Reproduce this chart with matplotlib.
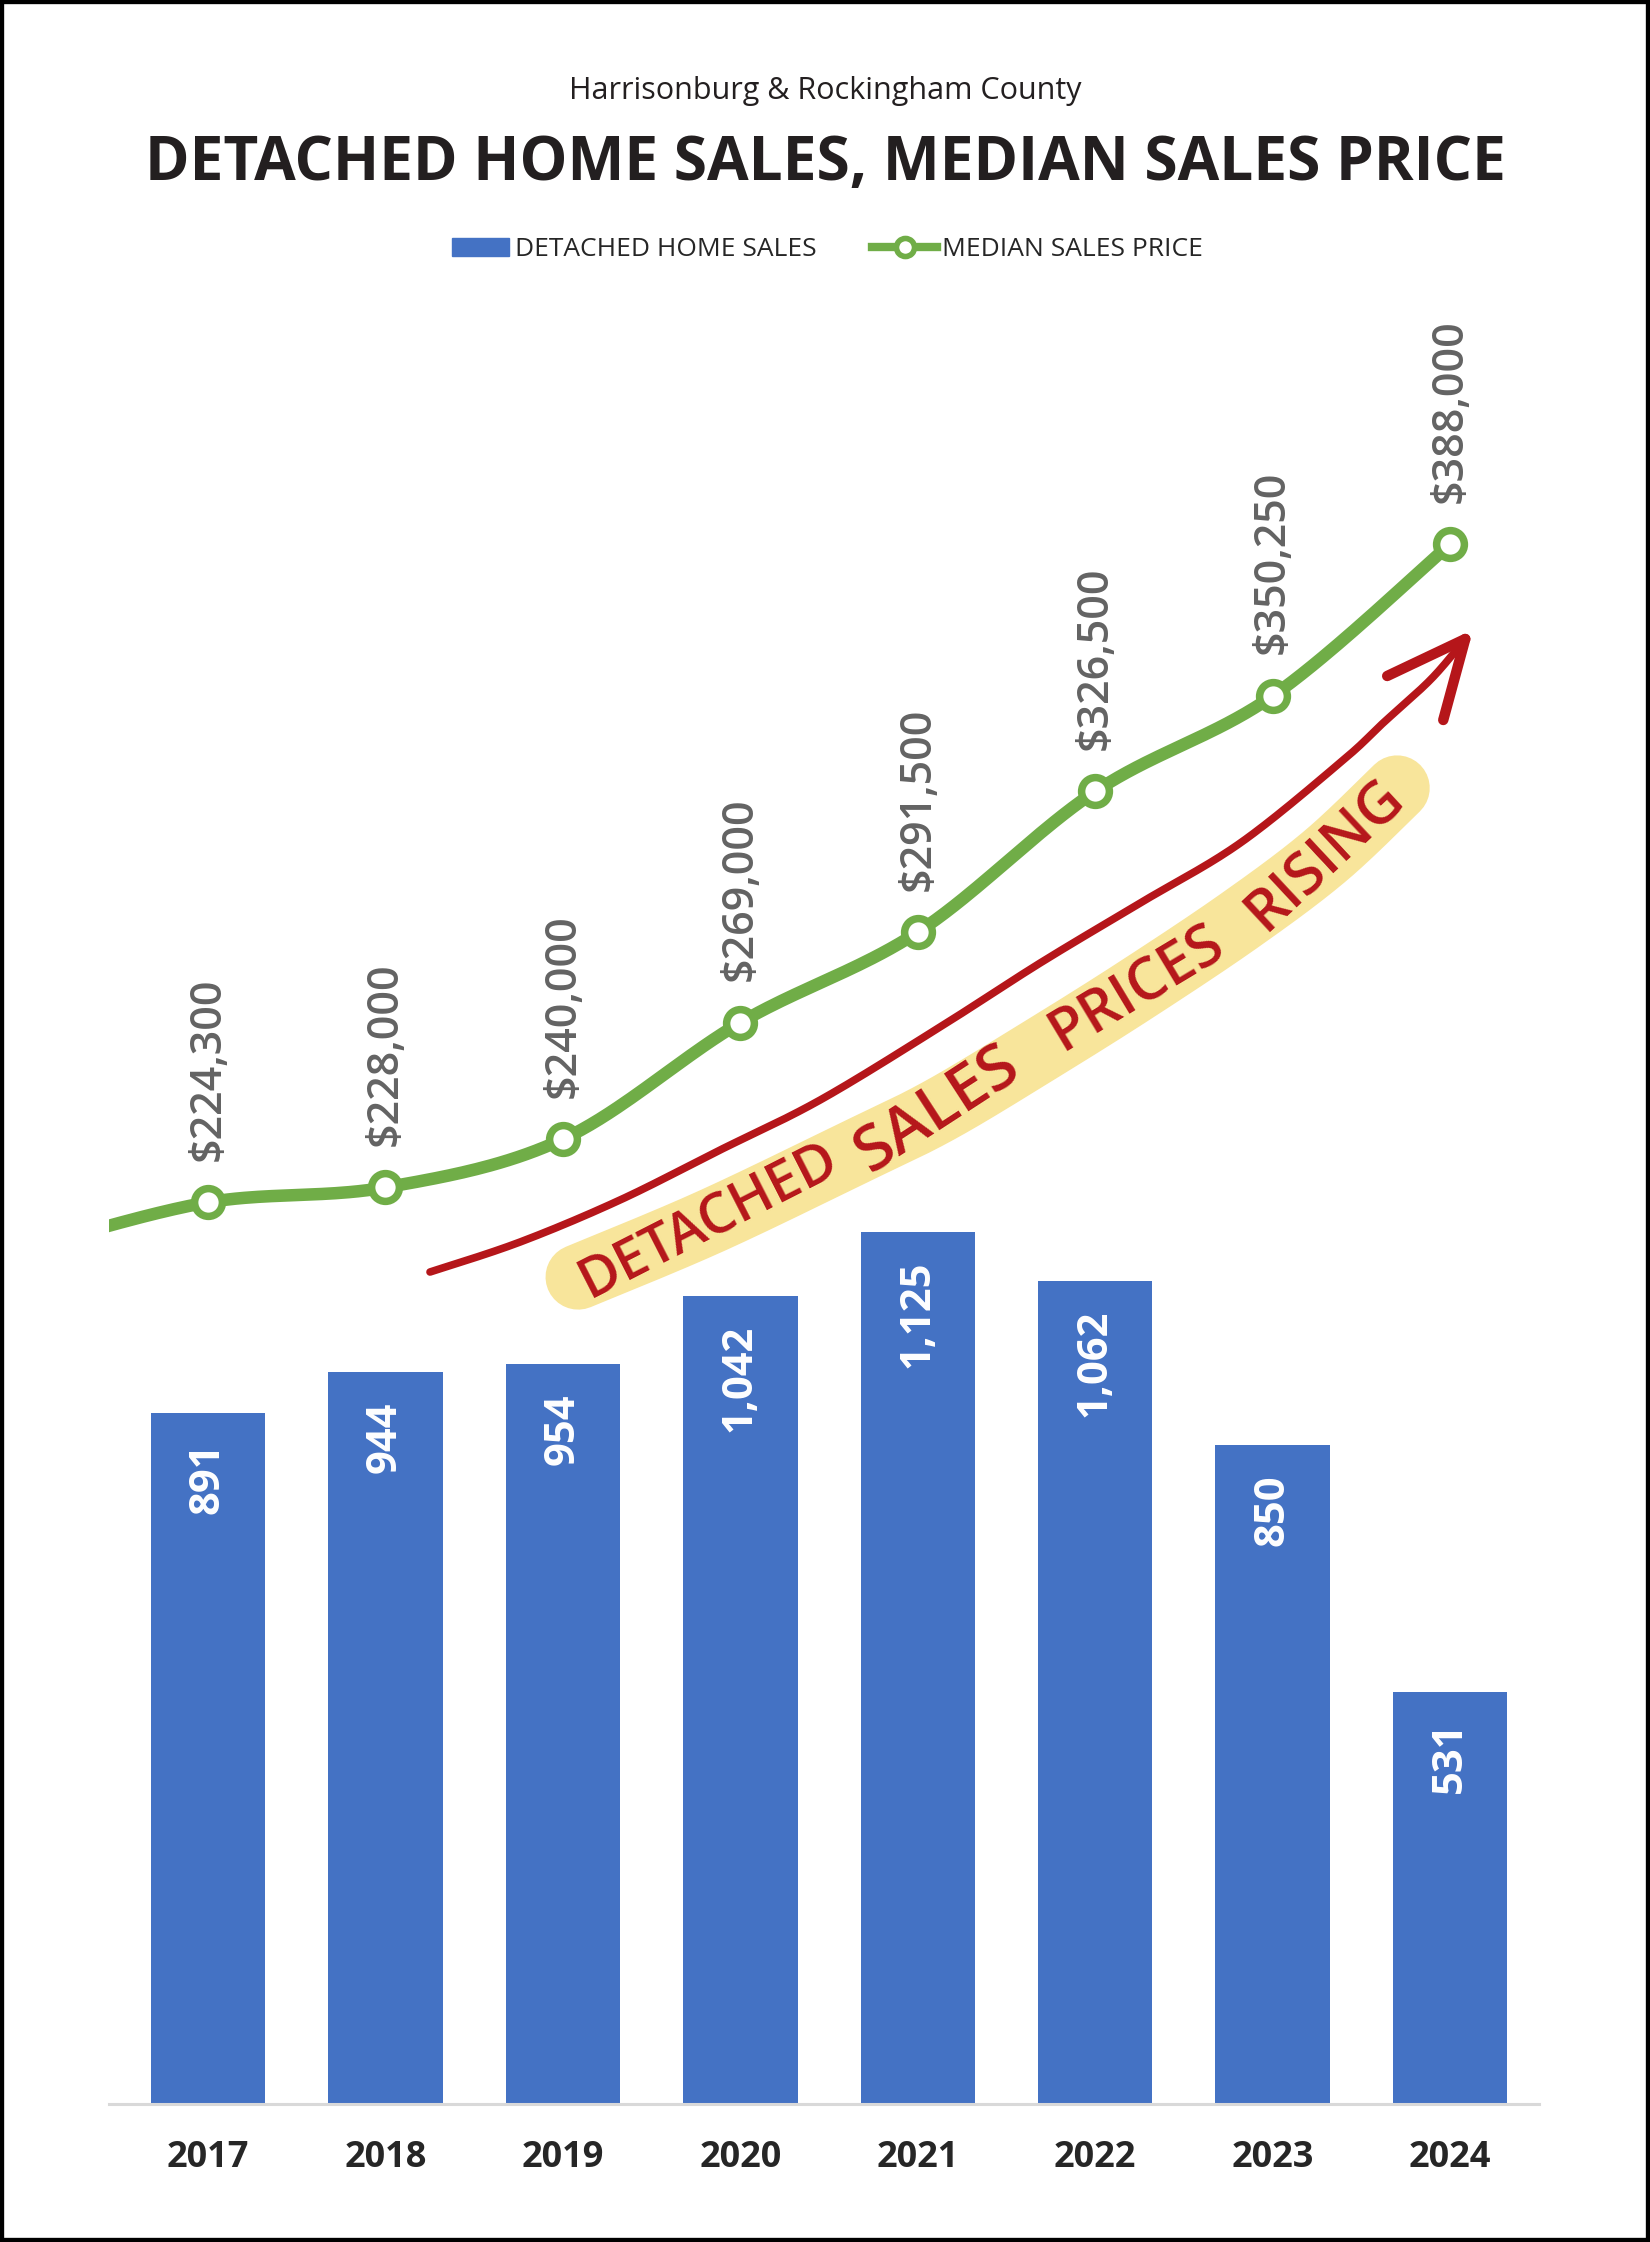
import numpy as np
import matplotlib
matplotlib.use('Agg')
import matplotlib.pyplot as plt
from matplotlib.patches import Rectangle
from matplotlib.lines import Line2D

# ---------------- data ----------------
years = ['2017', '2018', '2019', '2020', '2021', '2022', '2023', '2024']
home_sales = [891, 944, 954, 1042, 1125, 1062, 850, 531]
median_price = [224300, 228000, 240000, 269000, 291500, 326500, 350250, 388000]
price_2016 = 213000  # prior year; only its connecting line shows at the left edge

subtitle = 'Harrisonburg & Rockingham County'
title = 'DETACHED HOME SALES, MEDIAN SALES PRICE'
legend_bar = 'DETACHED HOME SALES'
legend_line = 'MEDIAN SALES PRICE'
note_words = ['DETACHED', 'SALES', 'PRICES', 'RISING']

# hand-drawn annotation, in (category index, price) units
arrow_x = [1.251, 1.759, 2.322, 2.886, 3.450, 4.126, 4.690, 5.254, 5.818, 6.392, 6.623, 6.894, 7.086]
arrow_y = [206965, 214428, 224876, 237313, 249751, 267910, 283831, 298756, 313682, 334080, 343532, 354478, 364428]
barb_x = [6.646, 6.962]
barb_y = [355224, 344279]
hl_x = [2.086, 2.824, 3.636, 4.126, 4.690, 5.237, 5.818, 6.297, 6.702]
hl_y = [205721, 219403, 236567, 247264, 262189, 277363, 294527, 310448, 327363]
word_x = [2.824, 4.115, 5.237, 6.297]
word_y = [219403, 247264, 277363, 310448]
word_rot = [27, 33, 31, 43]
word_size = [40, 46, 42, 42]

BLUE = '#4472C4'
GREEN = '#70AD47'
GRAY = '#636363'
RED = '#B5161A'
YELLOW = '#F8E59B'
DARK = '#231F20'
FONT = 'Open Sans'


def smooth(xs, ys, n=40):
    """Excel-style Bezier smoothing through the points."""
    P = np.column_stack([xs, ys]).astype(float)
    out = []
    for i in range(len(P) - 1):
        p0 = P[i - 1] if i > 0 else P[i]
        p1, p2 = P[i], P[i + 1]
        p3 = P[i + 2] if i + 2 < len(P) else P[i + 1]
        c1 = p1 + (p2 - p0) / 6
        c2 = p2 - (p3 - p1) / 6
        t = np.linspace(0, 1, n)[:, None]
        seg = (1 - t) ** 3 * p1 + 3 * (1 - t) ** 2 * t * c1 + 3 * (1 - t) * t ** 2 * c2 + t ** 3 * p2
        if i > 0:
            seg = seg[1:]
        out.append(seg)
    out = np.vstack(out)
    return out[:, 0], out[:, 1]


W, H = 1650, 2242
fig = plt.figure(figsize=(W / 100, H / 100), dpi=100)
fig.patch.set_facecolor('white')

ax = fig.add_axes([108.7 / W, 138 / H, 1430 / W, 1809 / H])
x = np.arange(len(years))
ax.bar(x, home_sales, width=0.645, color=BLUE, zorder=2)
ax.set_xlim(-0.56, 7.5)
ax.set_ylim(0, 2333)
ax.set_yticks([])
for s in ['left', 'right', 'top']:
    ax.spines[s].set_visible(False)
ax.spines['bottom'].set_color('#D9D9D9')
ax.spines['bottom'].set_linewidth(2.2)
ax.set_xticks(x)
ax.set_xticklabels(years, fontsize=26, fontweight='bold', family=FONT, color='#262626')
ax.tick_params(axis='x', length=0, pad=26)
for xi, v in zip(x, home_sales):
    ax.annotate(f'{v:,}', (xi, v), xytext=(0, -21), textcoords='offset points',
                rotation=90, ha='center', va='top', color='white',
                fontsize=30, fontweight='bold', family=FONT, zorder=3)

ax2 = ax.twinx()
ax2.set_ylim(0, 450000)
ax2.set_xlim(-0.56, 7.5)
ax2.axis('off')

# annotation: highlighter, red arrow, words
hx, hy = smooth(hl_x, hl_y)
ax2.plot(hx, hy, color=YELLOW, lw=47, solid_capstyle='round', zorder=1)
rx, ry = smooth(arrow_x, arrow_y)
ax2.plot(rx, ry, color=RED, lw=5.5, solid_capstyle='round', zorder=2)
for bx, by in zip(barb_x, barb_y):
    ax2.plot([arrow_x[-1], bx], [arrow_y[-1], by], color=RED, lw=7.5,
             solid_capstyle='round', zorder=2)
for w, wx, wy, r, fs in zip(note_words, word_x, word_y, word_rot, word_size):
    ax2.text(wx, wy, w, rotation=r, ha='center', va='center', rotation_mode='anchor',
             color=RED, fontsize=fs, fontweight='semibold',
             family=FONT, zorder=3)

# price line
all_x = np.concatenate([[-1], x])
all_y = [price_2016] + median_price
sx, sy = smooth(all_x, all_y)
ax2.plot(sx, sy, color=GREEN, lw=9, solid_capstyle='round', zorder=4)
ax2.plot(x, median_price, 'o', ms=20, mfc='white', mec=GREEN, mew=5.4, zorder=5)
for xi, v in zip(x, median_price):
    ax2.annotate(f'${v:,}', (xi, v), xytext=(0, 30), textcoords='offset points',
                 rotation=90, ha='center', va='bottom', color=GRAY,
                 fontsize=31, fontweight='semibold', family=FONT, zorder=5)

# titles
fig.text(0.5, 1 - 91 / H, subtitle, ha='center', va='center', fontsize=22,
         family=FONT, color=DARK)
fig.text(0.5, 1 - 157 / H, title, ha='center', va='center_baseline', fontsize=43.5,
         fontweight='bold', family=FONT, color=DARK)

# legend
ly = 1 - 247 / H
fig.patches.append(Rectangle((452 / W, 1 - 256 / H), 57 / W, 18 / H,
                             transform=fig.transFigure, color=BLUE))
fig.text(515 / W, ly, legend_bar, ha='left', va='center_baseline', fontsize=19,
         family=FONT, color='#262626')
fig.add_artist(Line2D([872 / W, 937 / W], [ly, ly], transform=fig.transFigure,
                      color=GREEN, lw=6))
fig.add_artist(Line2D([905 / W], [ly], transform=fig.transFigure, marker='o',
                      ms=13, mfc='white', mec=GREEN, mew=4, lw=0))
fig.text(942 / W, ly, legend_line, ha='left', va='center_baseline', fontsize=19,
         family=FONT, color='#262626')

# outer frame
fig.add_artist(Rectangle((0, 0), 1, 1, transform=fig.transFigure, fill=False,
                         ec='black', lw=6))

fig.savefig('out.png', dpi=100, facecolor='white')
